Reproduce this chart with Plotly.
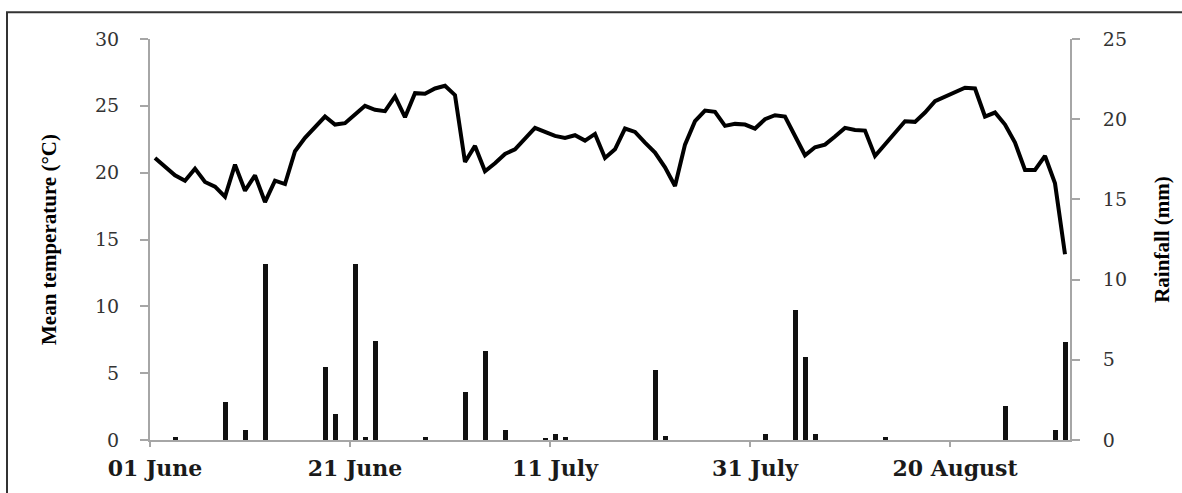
import plotly.graph_objects as go

# Daily record, 01 June - 31 August (day 0 = 01 June)
days = list(range(92))
mean_temp = [
    21.1, 20.4, 19.8, 19.4, 20.3, 19.3, 18.95, 18.2, 20.6, 18.65,
    19.8, 17.8, 19.4, 19.15, 21.6, 22.6, 23.4, 24.2, 23.6, 23.7,
    24.35, 25.0, 24.7, 24.6, 25.7, 24.15, 25.95, 25.9, 26.3, 26.5,
    25.8, 20.8, 22.0, 20.1, 20.7, 21.4, 21.75, 22.5, 23.35, 23.05,
    22.75, 22.6, 22.8, 22.4, 22.9, 21.1, 21.75, 23.3, 23.05, 22.25,
    21.5, 20.4, 19.0, 22.1, 23.85, 24.65, 24.55, 23.5, 23.65, 23.6,
    23.3, 24.0, 24.3, 24.2, 22.75, 21.3, 21.9, 22.1, 22.7, 23.35,
    23.2, 23.15, 21.25, 22.1, 23.0, 23.85, 23.8, 24.5, 25.35, 25.7,
    26.0, 26.35, 26.3, 24.2, 24.5, 23.6, 22.25, 20.2, 20.2, 21.25,
    19.2, 13.9,
]

# Days with recorded rainfall
rain_days = [2, 7, 9, 11, 17, 18, 20, 21, 22, 27, 31, 33, 35, 39, 40, 41,
             50, 51, 61, 64, 65, 66, 73, 85, 90, 91]
rain_mm = [0.2, 2.4, 0.65, 11.0, 4.55, 1.6, 11.0, 0.2, 6.15, 0.2, 3.0, 5.55,
           0.65, 0.15, 0.4, 0.2, 4.35, 0.25, 0.4, 8.1, 5.15, 0.4, 0.2, 2.15,
           0.6, 6.1]

date_tick_days = [0, 20, 40, 60, 80]
date_tick_labels = ["01 June", "21 June", "11 July", "31 July", "20 August"]

W, H = 1182, 493
ML, MR, MT, MB = 150, 112, 39, 50
pw, ph = W - ML - MR, H - MT - MB

fig = go.Figure()

fig.add_trace(go.Bar(
    x=rain_days, y=rain_mm, yaxis="y2", width=0.5,
    marker=dict(color="#111111", line=dict(width=0)),
    showlegend=False,
))

fig.add_trace(go.Scatter(
    x=days, y=mean_temp, mode="lines",
    line=dict(color="#000000", width=4),
    showlegend=False,
))

axis_grey = "#a6a6a6"
num_font = dict(family="DejaVu Serif", size=19, color="#333333")
title_font = dict(family="Liberation Serif", size=21, color="#000000", weight="bold")

fig.update_layout(
    width=W, height=H,
    margin=dict(l=ML, r=MR, t=MT, b=MB, pad=0),
    paper_bgcolor="white", plot_bgcolor="white",
    bargap=0,
    xaxis=dict(
        range=[-0.5, 91.5],
        tickvals=[d - 0.5 for d in date_tick_days],
        ticktext=date_tick_labels,
        ticklabelshift=5,
        ticks="outside", ticklen=5, tickcolor=axis_grey, tickwidth=1.5,
        showline=True, linecolor=axis_grey, linewidth=2,
        showgrid=False, zeroline=False,
        tickfont=dict(family="DejaVu Serif", size=22, color="#1a1a1a", weight="bold"),
        ticklabelstandoff=3,
    ),
    yaxis=dict(
        range=[0, 30], tickvals=[0, 5, 10, 15, 20, 25, 30],
        ticks="outside", ticklen=8, tickcolor=axis_grey, tickwidth=1.5,
        showline=True, linecolor=axis_grey, linewidth=2,
        showgrid=False, zeroline=False,
        tickfont=num_font, ticklabelstandoff=17,
        title=dict(text="Mean temperature (°C)", font=title_font, standoff=33),
    ),
    yaxis2=dict(
        range=[0, 25], tickvals=[0, 5, 10, 15, 20, 25],
        overlaying="y", side="right",
        ticks="outside", ticklen=8, tickcolor=axis_grey, tickwidth=1.5,
        showline=True, linecolor=axis_grey, linewidth=2,
        showgrid=False, zeroline=False,
        tickfont=num_font, ticklabelstandoff=19,
        title=dict(text="Rainfall (mm)", font=title_font, standoff=28),
    ),
)

# Frame around the whole chart
fig.add_shape(
    type="rect", xref="paper", yref="paper",
    x0=(7 - ML) / pw, x1=(1190 - ML) / pw,
    y0=(H - MB - 500) / ph, y1=(H - MB - 12) / ph,
    line=dict(color="#333333", width=2), fillcolor="rgba(0,0,0,0)",
    layer="below",
)

fig.write_html("out.html")
